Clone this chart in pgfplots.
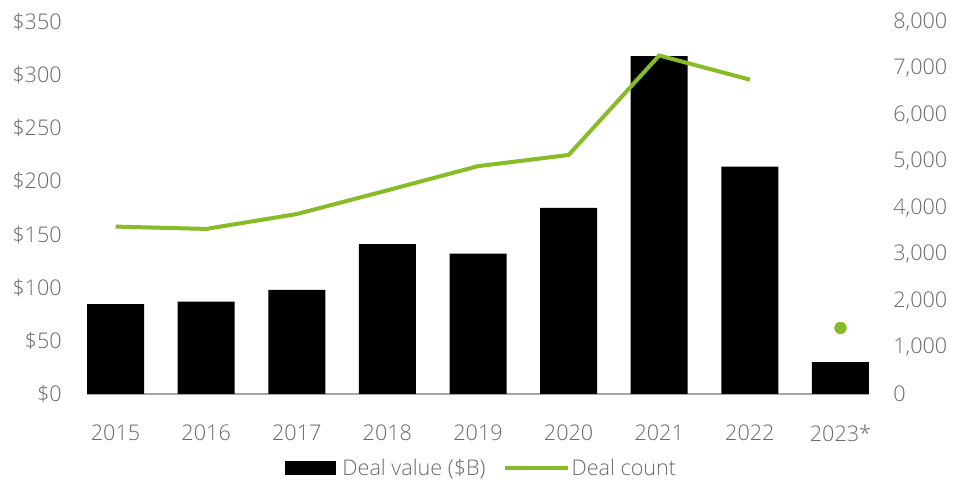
\documentclass[border=0pt]{standalone}
\usepackage{fontspec}
\setmainfont{Open Sans}[UprightFont=* Light]
\usepackage{pgfplots}
\pgfplotsset{compat=1.18}
\definecolor{dgreen}{HTML}{86BC25}
\definecolor{txt}{HTML}{6A6A6A}
\definecolor{axl}{HTML}{A6A6A6}
\begin{document}
\begin{tikzpicture}
\pgfplotsset{
  base/.style={
    scale only axis, width=586.5pt, height=279pt,
    at={(0,0)}, anchor=south west,
    xmin=-0.315, xmax=8.315, ymin=0,
    xtick={0,...,8},
    major tick length=0pt, tick style={draw=none},
    clip=false,
    font=\fontsize{16.2}{19}\selectfont,
    tick label style={text=txt, font=\fontsize{16.2}{19}\selectfont, inner sep=0pt},
    /pgf/number format/assume math mode=true,
    scaled y ticks=false,
  }
}
\begin{axis}[base,
  ymax=350, ytick={0,50,...,350},
  axis x line*=bottom, axis y line*=left,
  y axis line style={draw=none},
  x axis line style={-, draw=axl, line width=1.1pt},
  xticklabels={2015,2016,2017,2018,2019,2020,2021,2022,2023*},
  xticklabel style={anchor=center, yshift=-29.25pt},
  yticklabel={\$\pgfmathprintnumber{\tick}},
  yticklabel style={anchor=east, xshift=-18.75pt},
]
\addplot[ybar, bar width=42.75pt, fill=black, draw=none] coordinates {
  (0,84.5) (1,87) (2,98) (3,141) (4,132) (5,175) (6,318) (7,214) (8,30)
};
\end{axis}
\begin{axis}[base,
  ymax=8000, ytick={0,1000,...,8000},
  axis x line=none, axis y line*=right,
  y axis line style={draw=none},
  yticklabel={\pgfmathprintnumber[1000 sep={,}]{\tick}},
  yticklabel style={anchor=west, xshift=18pt},
  legend style={draw=none, fill=none, inner sep=0pt,
    nodes={inner sep=0pt},
    /tikz/every odd column/.append style={column sep=1.5pt},
    /tikz/every even column/.append style={column sep=13pt},
    at={(0.503,-0.199)}, anchor=center, text=txt,
    font=\fontsize{16.2}{19}\selectfont},
  legend columns=2,
]
\addlegendimage{legend image code/.code={\fill[black] (0pt,-4.9pt) rectangle (37.5pt,4.9pt); \path (41.5pt,0pt);}}
\addlegendentry{Deal value (\$B)}
\addplot[dgreen, line width=3pt, mark=none,
  legend image code/.code={\draw[dgreen, line width=3pt] (0pt,0pt) -- (47pt,0pt);}]
  coordinates {(0,3600) (1,3550) (2,3870) (3,4380) (4,4900) (5,5140) (6,7280) (7,6760)};
\addlegendentry{Deal count}
\addplot[only marks, mark=*, mark size=4.4pt, dgreen, forget plot] coordinates {(8,1420)};
\end{axis}
\pgfresetboundingbox
\path (-65.25pt,-67.5pt) rectangle (651.75pt,295.5pt);
\end{tikzpicture}
\end{document}
